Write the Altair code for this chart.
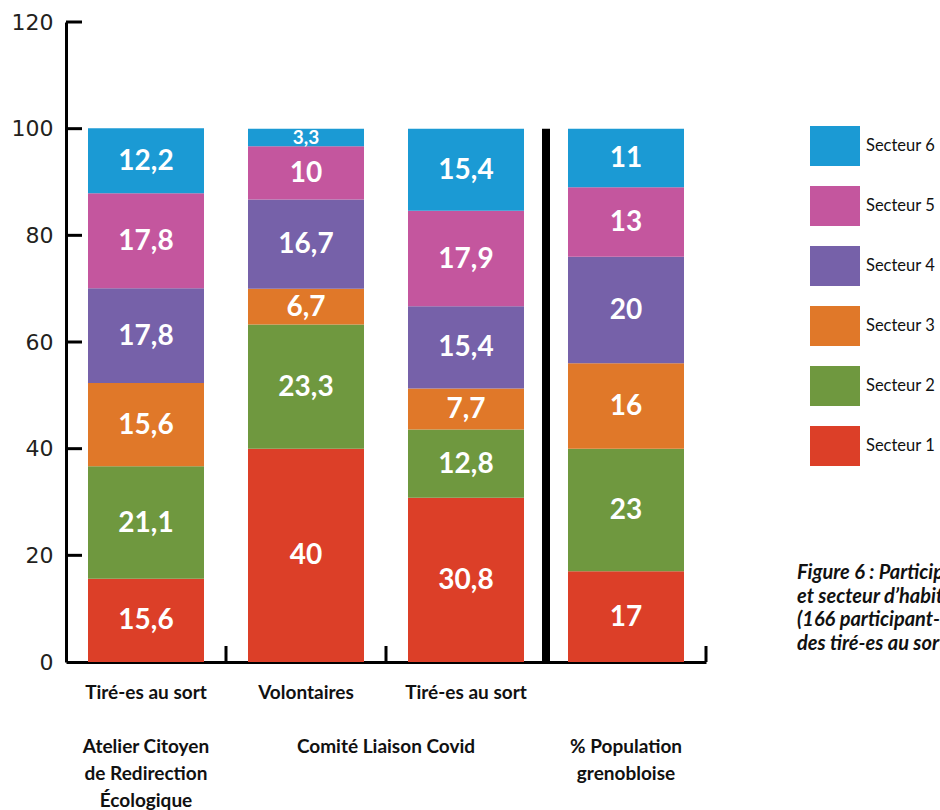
import altair as alt
import pandas as pd

# ---------------- data ----------------
bars = ["ACRE", "CLC-V", "CLC-T", "POP"]
sectors = ["Secteur 1", "Secteur 2", "Secteur 3", "Secteur 4", "Secteur 5", "Secteur 6"]
acre = [15.6, 21.1, 15.6, 17.8, 17.8, 12.2]
volontaires = [40, 23.3, 6.7, 16.7, 10, 3.3]
clc_tires = [30.8, 12.8, 7.7, 15.4, 17.9, 15.4]
population = [17, 23, 16, 20, 13, 11]
colors = ["#DC3F28", "#6F983F", "#E07829", "#7661A9", "#C4569E", "#1B9AD4"]

row1_bars = ["ACRE", "CLC-V", "CLC-T"]
row1_labels = ["Tiré-es au sort", "Volontaires", "Tiré-es au sort"]
row2_bars = ["ACRE", "POP"]
row2_labels = ["Atelier Citoyen\nde Redirection\nÉcologique", "% Population\ngrenobloise"]
row2_mid_bar = ["CLC-V"]
row2_mid_label = ["Comité Liaison Covid"]
caption = ["Figure 6 : Participation par dispositif\net secteur d’habitation\n(166 participant-es au total,\ndes tiré-es au sort et volontaires)"]
y_ticks = [20, 40, 60, 80, 100, 120]

rows = []
for b, vals in zip(bars, [acre, volontaires, clc_tires, population]):
    for i, (s, v) in enumerate(zip(sectors, vals)):
        rows.append({"bar": b, "sector": s, "sn": i + 1, "value": v})
df = pd.DataFrame(rows)

xscale = alt.Scale(domain=bars, paddingInner=0.275, paddingOuter=0.1375)
yscale = alt.Scale(domain=[0, 120])

base = alt.Chart(df)

bar_layer = base.mark_bar(strokeWidth=0).encode(
    x=alt.X("bar:N", scale=xscale,
            axis=alt.Axis(labels=False, ticks=False, title=None, domainWidth=3,
                          domainColor="black", grid=False)),
    y=alt.Y("value:Q", stack="zero", scale=yscale,
            axis=alt.Axis(values=[0, 20, 40, 60, 80, 100, 120], labelFont="DejaVu Sans",
                          labelFontSize=22, labelColor="#231f20", labelPadding=13,
                          ticks=False, domainWidth=3, domainColor="black", grid=False,
                          title=None)),
    color=alt.Color("sector:N",
                    scale=alt.Scale(domain=sectors[::-1], range=colors[::-1]),
                    legend=alt.Legend(orient="none", legendX=744, legendY=99, title=None,
                                      symbolType="M-1,-0.8H1V0.8H-1Z", symbolSize=2500,
                                      symbolStrokeWidth=0, symbolOpacity=1,
                                      labelFont="Lato", labelFontSize=16.5,
                                      labelColor="#111111", labelOffset=6,
                                      rowPadding=15, labelLimit=300, padding=0)),
    order=alt.Order("sn:Q", sort="ascending"),
)

text_layer = base.transform_stack(
    stack="value", as_=["y0", "y1"], groupby=["bar"],
    sort=[alt.SortField("sn", order="ascending")]
).transform_calculate(
    mid="(datum.y0 + datum.y1) / 2",
    lab="replace(toString(datum.value), '.', ',')",
).mark_text(color="white", font="Lato", fontWeight="bold", baseline="middle", dy=1).encode(
    x=alt.X("bar:N", scale=xscale),
    y=alt.Y("mid:Q", scale=yscale),
    text="lab:N",
    size=alt.condition("datum.value < 5", alt.value(19), alt.value(28)),
)

tick_df = pd.DataFrame({"bar": bars})
x_ticks = alt.Chart(tick_df).mark_rule(xOffset=22, strokeWidth=3, color="black").encode(
    x=alt.X("bar:N", scale=xscale, bandPosition=1),
    y=alt.value(640), y2=alt.value(624),
)

sep_df = pd.DataFrame({"bar": ["CLC-T"], "lo": [0], "hi": [100]})
separator = alt.Chart(sep_df).mark_rule(xOffset=22, strokeWidth=8, color="black").encode(
    x=alt.X("bar:N", scale=xscale, bandPosition=1),
    y=alt.Y("lo:Q", scale=yscale), y2="hi:Q",
)

yt_df = pd.DataFrame({"v": y_ticks})
y_tick_layer = alt.Chart(yt_df).mark_rule(strokeWidth=3, color="black").encode(
    y=alt.Y("v:Q", scale=yscale), x=alt.value(0), x2=alt.value(16),
)

r1 = alt.Chart(pd.DataFrame({"bar": row1_bars, "label": row1_labels})).mark_text(
    font="Lato", fontWeight="bold", fontSize=19, color="#111111", baseline="middle"
).encode(x=alt.X("bar:N", scale=xscale), y=alt.value(671), text="label:N")

r2 = alt.Chart(pd.DataFrame({"bar": row2_bars, "label": row2_labels})).mark_text(
    font="Lato", fontWeight="bold", fontSize=19, color="#111111", baseline="alphabetic",
    lineBreak="\n", lineHeight=27
).encode(x=alt.X("bar:N", scale=xscale), y=alt.value(731), text="label:N")

r2m = alt.Chart(pd.DataFrame({"bar": row2_mid_bar, "label": row2_mid_label})).mark_text(
    font="Lato", fontWeight="bold", fontSize=19, color="#111111", baseline="alphabetic",
    xOffset=80
).encode(x=alt.X("bar:N", scale=xscale), y=alt.value(731), text="label:N")

cap = alt.Chart(pd.DataFrame({"label": caption})).mark_text(
    font="Lato", fontWeight="bold", fontStyle="italic", fontSize=20, color="#111111",
    align="left", baseline="alphabetic", lineBreak="\n", lineHeight=23.5
).encode(x=alt.value(731), y=alt.value(557), text="label:N")

chart = alt.layer(
    bar_layer, text_layer, separator, x_ticks, y_tick_layer, r1, r2, r2m, cap
).properties(
    width=640, height=640,
    autosize=alt.AutoSizeParams(type="none"),
    padding={"left": 66, "top": 22, "right": 234, "bottom": 148},
).configure_view(stroke=None)

chart.save("out.html", embed_options={"renderer": "svg", "actions": False})
